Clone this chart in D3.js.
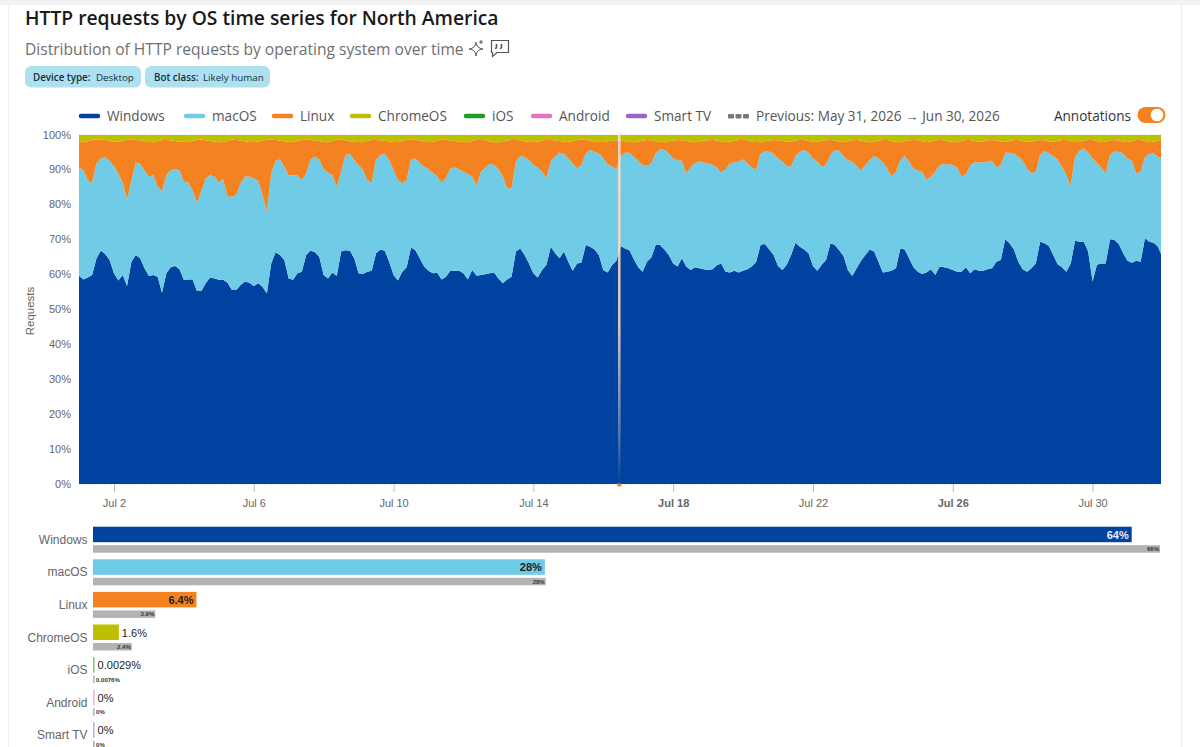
<!DOCTYPE html>
<html>
<head>
<meta charset="utf-8">
<script src="https://cdn.jsdelivr.net/npm/d3@7"></script>
<style>
	html, body { margin: 0; padding: 0; background: #fff; overflow: hidden; }
	svg { display: block; }
	.sans { font-family: "Liberation Sans", Arial, sans-serif; }
	.ui { font-family: "Open Sans", "Noto Sans", sans-serif; }
</style>
</head>
<body>
<svg id="chart" width="1200" height="747"></svg>
<script>
// upper edge of each stacked band in percent, one reading every 3 hours from Jul 1, one row per day
var windowsEdge = [
	59.7,58.6,59.2,59.9,64.6,66.9,65.9,64.2,
	60.4,58.3,59.9,56.7,63.7,65.6,64.7,61.8,
	59.6,59.9,59.4,54.8,60.4,62.1,62.5,61.5,
	58.5,58.6,58.6,55.3,55.3,57.5,59.2,58.9,
	58.5,58.5,57.7,55.6,55.6,57.0,58.0,57.7,
	56.7,57.5,56.5,54.6,63.2,66.4,65.6,64.2,
	58.9,58.5,60.4,60.8,65.6,66.9,66.4,65.1,
	59.9,58.9,60.6,59.6,66.6,67.0,66.8,64.7,
	60.4,60.2,60.8,61.1,66.1,67.2,66.8,63.7,
	59.9,58.3,60.8,62.1,67.8,67.0,64.7,62.3,
	61.1,60.4,60.5,58.6,59.4,61.1,61.1,61.1,
	60.4,58.6,61.3,59.7,59.9,60.1,60.4,60.6,
	58.9,57.5,58.6,59.4,66.6,67.5,65.6,63.2,
	60.4,59.2,61.3,62.8,68.0,66.1,64.7,66.6,
	63.7,61.1,63.2,63.4,68.5,68.0,67.2,65.6,
	61.3,60.6,62.7,64.0,68.2,67.5,67.0,64.4,
	62.1,60.8,63.7,64.9,68.5,68.5,67.2,65.6,
	63.2,62.3,64.7,62.3,61.3,62.1,61.8,61.5,
	61.3,61.5,62.7,63.2,60.8,60.6,61.1,60.6,
	61.1,61.5,62.3,63.7,68.5,68.8,67.2,65.6,
	62.5,61.3,62.8,65.6,69.1,68.0,67.2,66.1,
	62.5,61.1,62.8,64.2,69.0,68.5,67.0,65.3,
	61.3,59.6,61.8,64.0,65.6,67.2,66.6,63.7,
	60.6,60.8,61.1,61.8,67.5,67.2,64.7,62.1,
	60.8,60.2,60.6,61.5,59.9,62.3,62.1,61.8,
	61.3,60.8,60.8,62.1,60.4,61.5,61.1,61.1,
	61.5,61.8,63.7,64.2,70.1,69.0,67.2,63.7,
	61.5,60.8,61.8,63.2,69.4,69.0,68.2,65.6,
	63.0,62.1,60.8,63.2,69.7,69.4,69.4,66.6,
	58.0,62.8,63.2,63.2,70.1,69.9,68.8,66.1,
	64.0,63.4,64.0,63.7,70.4,69.4,69.1,68.0,
	65.9
];
var macosEdge = [
	90.7,90.0,87.1,86.2,91.9,93.3,93.6,92.6,
	91.1,89.0,86.3,81.4,87.1,92.1,91.7,89.8,
	88.1,88.5,85.2,83.8,88.5,90.0,90.2,90.0,
	86.6,86.3,84.2,80.6,83.8,87.6,88.5,88.1,
	86.3,87.3,82.3,82.3,82.8,86.2,88.1,88.1,
	87.6,86.9,82.8,78.0,89.0,92.6,93.0,90.9,
	88.5,88.5,88.5,87.1,89.0,93.0,93.8,93.0,
	90.2,89.2,88.5,85.0,89.5,94.3,94.6,92.8,
	91.4,90.0,87.1,86.3,93.0,94.3,94.6,92.8,
	90.0,87.1,86.2,87.1,93.0,93.3,91.9,90.9,
	90.2,89.2,88.1,86.3,87.6,90.4,90.7,90.2,
	89.5,88.8,88.1,85.4,89.5,90.7,91.7,91.4,
	90.2,88.1,84.7,84.7,92.4,94.0,93.6,92.8,
	91.4,90.7,89.5,87.6,92.4,93.8,94.9,94.6,
	93.3,91.9,90.4,91.4,94.7,95.7,95.2,94.7,
	93.3,91.7,90.9,90.3,94.0,94.9,94.9,93.8,
	92.6,91.4,91.1,91.9,94.7,95.9,95.7,94.7,
	93.3,92.8,92.6,89.0,90.7,91.9,92.4,92.1,
	91.9,91.5,90.7,89.2,90.2,91.9,92.1,92.4,
	93.0,91.9,90.7,90.0,94.6,95.3,95.2,94.6,
	93.3,92.4,91.1,90.9,94.0,95.2,95.7,94.9,
	93.3,92.4,90.9,91.4,94.3,95.7,95.5,94.0,
	92.8,92.4,91.1,89.8,91.4,92.8,94.0,93.3,
	92.1,90.4,88.1,89.5,92.8,94.0,92.4,90.4,
	89.8,89.5,87.1,88.1,89.5,91.4,91.6,91.6,
	91.4,90.7,88.1,88.8,91.1,92.2,92.1,92.1,
	92.4,92.6,90.7,91.4,94.9,94.9,94.7,93.8,
	92.6,90.4,89.0,89.5,94.3,95.5,94.7,94.0,
	93.0,90.9,88.5,85.5,93.8,95.5,96.2,94.9,
	93.3,91.9,90.7,89.0,94.3,95.2,95.2,94.7,
	93.3,92.6,89.0,89.5,93.6,94.6,94.7,93.8,
	93.3
];
var linuxEdge = [
	98.0,97.9,98.2,98.6,98.7,98.7,98.6,98.3,
	98.1,98.0,98.3,98.6,98.7,98.6,98.5,98.3,
	98.0,97.9,98.2,98.6,98.6,98.5,98.3,98.1,
	98.1,98.0,98.3,98.6,98.7,98.5,98.3,98.1,
	97.9,98.0,98.3,98.7,98.6,98.4,98.2,98.0,
	98.0,98.1,98.4,98.6,98.7,98.6,98.4,98.2,
	98.0,98.1,98.3,98.6,98.7,98.6,98.4,98.2,
	98.0,97.9,98.3,98.7,98.6,98.5,98.2,98.1,
	98.0,97.9,98.3,98.6,98.6,98.5,98.3,98.2,
	98.0,98.0,98.3,98.6,98.7,98.6,98.4,98.1,
	97.9,98.1,98.4,98.7,98.6,98.4,98.3,98.1,
	98.0,97.9,98.3,98.6,98.6,98.5,98.1,97.9,
	97.9,98.0,98.4,98.6,98.6,98.5,98.2,98.1,
	98.0,98.1,98.4,98.6,98.6,98.5,98.3,98.1,
	98.0,98.2,98.5,98.7,98.6,98.4,98.1,98.0,
	98.0,98.2,98.4,98.5,98.4,98.2,98.0,97.9,
	98.1,98.4,98.6,98.5,98.2,98.0,97.9,98.2,
	98.4,98.6,98.5,98.3,98.1,97.9,98.1,98.4,
	98.5,98.6,98.4,98.1,97.9,98.1,98.3,98.6,
	98.6,98.5,98.1,98.0,97.9,98.2,98.4,98.6,
	98.5,98.3,98.0,98.1,98.4,98.6,98.6,98.3,
	98.1,98.0,98.3,98.5,98.6,98.4,98.1,97.9,
	98.2,98.5,98.6,98.4,98.1,97.9,98.0,98.4,
	98.6,98.6,98.3,98.0,97.9,98.2,98.5,98.6,
	98.5,98.2,98.0,98.1,98.4,98.6,98.5,98.2,
	98.0,97.9,98.3,98.6,98.6,98.3,98.0,98.2,
	98.5,98.6,98.4,98.1,98.0,98.3,98.6,98.6,
	98.3,98.0,98.1,98.4,98.6,98.5,98.2,98.0,
	98.3,98.6,98.6,98.3,98.0,98.0,98.4,98.6,
	98.6,98.3,98.0,98.1,98.5,98.6,98.4,98.1,
	98.0,98.3,98.6,98.6,98.3,98.0,98.1,98.4,
	98.5
];
var annotationHours = [371];
var lastHour = 743;

var categories = ["Windows", "macOS", "Linux", "ChromeOS", "iOS", "Android", "Smart TV"];
var currentShare = [64.25, 27.95, 6.4, 1.6, 0.0029, 0, 0];
var previousShare = [66, 28, 3.85, 2.4, 0.0076, 0, 0];
var currentLabels = ["64%", "28%", "6.4%", "1.6%", "0.0029%", "0%", "0%"];
var previousLabels = ["66%", "28%", "3.9%", "2.4%", "0.0076%", "0%", "0%"];
var colors = ["#00429f", "#70cbe6", "#f58220", "#bdbf00", "#1e9e22", "#e874c0", "#9966c8"];

var yTicks = [0, 10, 20, 30, 40, 50, 60, 70, 80, 90, 100];
var xTickDays = [2, 6, 10, 14, 18, 22, 26, 30];
var boldDays = [18, 26];
var previousText = "Previous: May 31, 2026 \u2192 Jun 30, 2026";

var svg = d3.select("#chart");
var margin = {top: 135, right: 1161, bottom: 484, left: 79};

function hourDate(h) {
	return new Date(Date.UTC(2026, 6, 1) + h * 3600000);
}

var x = d3.scaleUtc()
	.domain([hourDate(0), hourDate(lastHour)])
	.range([margin.left, margin.right]);
var y = d3.scaleLinear()
	.domain([0, 100])
	.range([margin.bottom, margin.top]);

// page frame
svg.append("rect").attr("width", 1200).attr("height", 5).attr("fill", "#f2f2f2");
svg.append("line").attr("x1", 8.5).attr("x2", 8.5).attr("y1", 5).attr("y2", 747).attr("stroke", "#ececec");
svg.append("line").attr("x1", 1181.5).attr("x2", 1181.5).attr("y1", 5).attr("y2", 747).attr("stroke", "#ececec");

// header
svg.append("text").attr("class", "ui").attr("x", 25).attr("y", 25)
	.attr("font-size", 19.3).attr("font-weight", 600).attr("fill", "#1a1a1a")
	.text("HTTP requests by OS time series for North America");
svg.append("text").attr("class", "ui").attr("x", 25).attr("y", 55)
	.attr("font-size", 15.6).attr("fill", "#6f6f6f")
	.text("Distribution of HTTP requests by operating system over time");

// sparkle and comment icons
svg.append("path")
	.attr("d", "M476 42 C477 47 478 48 483 49 C478 50 477 51 476 56 C475 51 474 50 469 49 C474 48 475 47 476 42 Z M481 40 L481 44 M479 42 L483 42")
	.attr("fill", "none").attr("stroke", "#555").attr("stroke-width", 1);
svg.append("path")
	.attr("d", "M491.5 40.5 H508.5 V52.5 H497 L492.5 56.5 V52.5 H491.5 Z")
	.attr("fill", "none").attr("stroke", "#555").attr("stroke-width", 1.2);
svg.append("path")
	.attr("d", "M496.5 44 V47 L495.5 49 M501.5 44 V47 L500.5 49")
	.attr("fill", "none").attr("stroke", "#555").attr("stroke-width", 1.6);

// filter chips
var chips = [["Device type:", "Desktop"], ["Bot class:", "Likely human"]];
var chipBoxes = [[25, 116, 33, 96], [145, 125, 154, 203]];
chips.forEach(function(c, i) {
	var b = chipBoxes[i];
	svg.append("rect").attr("x", b[0]).attr("y", 66).attr("width", b[1]).attr("height", 21.5)
		.attr("rx", 6).attr("fill", "#aee0f0");
	svg.append("text").attr("class", "ui").attr("x", b[2]).attr("y", 81).attr("font-size", 9.8)
		.attr("font-weight", 600).attr("fill", "#12303f").text(c[0]);
	svg.append("text").attr("class", "ui").attr("x", b[3]).attr("y", 81).attr("font-size", 9.8)
		.attr("fill", "#12303f").text(c[1]);
});

// legend
var legendX = [79, 184, 272, 350, 464, 531, 626];
categories.forEach(function(c, i) {
	svg.append("line").attr("x1", legendX[i] + 2).attr("x2", legendX[i] + 19).attr("y1", 116).attr("y2", 116)
		.attr("stroke", colors[i]).attr("stroke-width", 4.5).attr("stroke-linecap", "round");
	svg.append("text").attr("class", "ui").attr("x", legendX[i] + 28).attr("y", 121)
		.attr("font-size", 13.6).attr("fill", "#555").text(c);
});
svg.selectAll(".prev-dot").data([0, 1, 2]).enter().append("rect")
	.attr("x", function(d) { return 728 + d * 7.5; }).attr("y", 114)
	.attr("width", 6).attr("height", 4.5).attr("rx", 1).attr("fill", "#777");
svg.append("text").attr("class", "ui").attr("x", 756).attr("y", 121)
	.attr("font-size", 13.6).attr("fill", "#555").text(previousText);
svg.append("text").attr("class", "ui").attr("x", 1131).attr("y", 121).attr("text-anchor", "end")
	.attr("font-size", 13.6).attr("fill", "#333").text("Annotations");
svg.append("rect").attr("x", 1137.5).attr("y", 107).attr("width", 28).attr("height", 16)
	.attr("rx", 8).attr("fill", "#f58220");
svg.append("circle").attr("cx", 1157).attr("cy", 115).attr("r", 6.3).attr("fill", "#fff");

// gridlines
svg.append("g").selectAll("line").data(yTicks).enter().append("line")
	.attr("x1", margin.left).attr("x2", margin.right)
	.attr("y1", function(d) { return y(d); }).attr("y2", function(d) { return y(d); })
	.attr("stroke", "#d9d9d9").attr("stroke-dasharray", "3,2");

// stacked areas
var hours = windowsEdge.map(function(d, i) { return Math.min(i * 3, lastHour); });
var full = windowsEdge.map(function() { return 100; });
var zero = windowsEdge.map(function() { return 0; });
var bands = [[zero, windowsEdge], [windowsEdge, macosEdge], [macosEdge, linuxEdge], [linuxEdge, full]];

bands.forEach(function(b, k) {
	var area = d3.area()
		.x(function(d, i) { return x(hourDate(hours[i])); })
		.y0(function(d, i) { return y(b[0][i]); })
		.y1(function(d, i) { return y(b[1][i]); });
	svg.append("path").datum(hours).attr("d", area).attr("fill", colors[k]);
});

// annotation band fades out towards the axis
var grad = svg.append("defs").append("linearGradient").attr("id", "annotation")
	.attr("x1", 0).attr("x2", 0).attr("y1", 0).attr("y2", 1);
[[0, 0.95], [0.55, 0.85], [0.85, 0.35], [1, 0]].forEach(function(s) {
	grad.append("stop").attr("offset", s[0]).attr("stop-color", "#fcd9c6").attr("stop-opacity", s[1]);
});
annotationHours.forEach(function(h) {
	var ax = x(hourDate(h));
	svg.append("rect").attr("x", ax - 1.3).attr("y", margin.top).attr("width", 2.6)
		.attr("height", margin.bottom - margin.top).attr("fill", "url(#annotation)");
	svg.append("rect").attr("x", ax - 2).attr("y", margin.bottom - 0.5).attr("width", 4).attr("height", 3)
		.attr("fill", "#f58220");
});

// axes
var xAxis = svg.append("g").attr("class", "sans")
	.attr("transform", "translate(0," + margin.bottom + ")")
	.call(d3.axisBottom(x)
		.tickValues(xTickDays.map(function(d) { return new Date(Date.UTC(2026, 6, d)); }))
		.tickSize(8).tickPadding(7)
		.tickFormat(d3.utcFormat("%b %-d")));
xAxis.select(".domain").remove();
xAxis.selectAll("line").attr("stroke", "#bbb");
xAxis.selectAll("text").attr("font-size", 11).attr("fill", "#666")
	.attr("font-weight", function(d) { return boldDays.indexOf(d.getUTCDate()) >= 0 ? 700 : 400; });

var yAxis = svg.append("g").attr("class", "sans")
	.attr("transform", "translate(" + margin.left + ",-0.5)")
	.call(d3.axisLeft(y).tickValues(yTicks).tickSize(0).tickPadding(8)
		.tickFormat(function(d) { return d + "%"; }));
yAxis.select(".domain").remove();
yAxis.selectAll("text").attr("font-size", 11).attr("fill", "#666");

svg.append("text").attr("class", "sans")
	.attr("transform", "translate(34,311) rotate(-90)").attr("text-anchor", "middle")
	.attr("font-size", 11.5).attr("fill", "#666").text("Requests");

// horizontal bars
var barX = d3.scaleLinear().domain([0, 66]).range([93, 1160]);
var barY = d3.scaleBand().domain(categories).range([526.7, 526.7 + 7 * 32.6]);
var minBar = 1.6;

function barWidth(v) {
	return Math.max(minBar, barX(v) - barX(0));
}

categories.forEach(function(c, i) {
	var top = barY(c);
	var w = barWidth(currentShare[i]);
	var pw = barWidth(previousShare[i]);
	var small = w < 40;
	var psmall = pw < 20;

	svg.append("text").attr("class", "sans").attr("x", 87.5).attr("y", top + 17).attr("text-anchor", "end")
		.attr("font-size", 12).attr("fill", "#666").text(c);

	svg.append("rect").attr("x", barX(0)).attr("y", top).attr("width", w).attr("height", 15.5)
		.attr("fill", colors[i]).attr("fill-opacity", w < 3 ? 0.55 : 1);
	svg.append("rect").attr("x", barX(0)).attr("y", top + 18.5).attr("width", pw).attr("height", 7.5)
		.attr("fill", "#b3b3b3");

	svg.append("text").attr("class", "sans")
		.attr("x", small ? barX(0) + w + 3 : barX(0) + w - 3).attr("y", top + 12)
		.attr("text-anchor", small ? "start" : "end")
		.attr("font-size", 11).attr("font-weight", small ? 400 : 700)
		.attr("fill", i == 0 ? "#e8f0fb" : "#222").text(currentLabels[i]);
	svg.append("text").attr("class", "sans")
		.attr("x", psmall ? barX(0) + pw + 1.5 : barX(0) + pw - 1).attr("y", top + 24.5)
		.attr("text-anchor", psmall ? "start" : "end")
		.attr("font-size", 6).attr("font-weight", 700)
		.attr("fill", "#333").text(previousLabels[i]);
});
</script>
</body>
</html>
